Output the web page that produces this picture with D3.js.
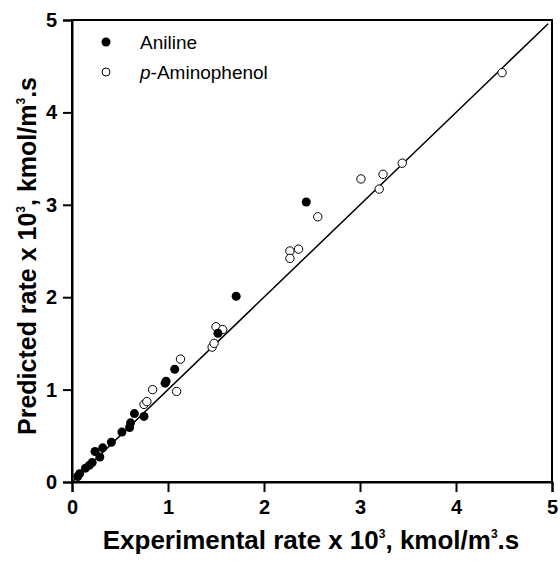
<!DOCTYPE html>
<html>
<head>
<meta charset="utf-8">
<script src="https://cdn.jsdelivr.net/npm/d3@7"></script>
<style>
  body { margin: 0; background: #fff; }
  text { font-family: Arial, "Liberation Sans", sans-serif; }
</style>
</head>
<body>
<div id="chart"></div>
<script>

// Aniline (filled circles)
var anilineExp  = [0.06, 0.08, 0.14, 0.18, 0.21, 0.24, 0.29, 0.32, 0.41, 0.52, 0.60, 0.61, 0.65, 0.75, 0.97, 0.98, 1.07, 1.52, 1.71, 2.44];
var anilinePred = [0.06, 0.09, 0.15, 0.18, 0.21, 0.33, 0.27, 0.37, 0.43, 0.54, 0.59, 0.64, 0.74, 0.71, 1.07, 1.09, 1.22, 1.61, 2.01, 3.03];

// p-Aminophenol (open circles)
var aminoExp  = [0.75, 0.78, 0.84, 1.09, 1.13, 1.46, 1.48, 1.50, 1.57, 2.27, 2.27, 2.36, 2.56, 3.01, 3.20, 3.24, 3.44, 4.48];
var aminoPred = [0.84, 0.87, 1.00, 0.98, 1.33, 1.46, 1.50, 1.68, 1.65, 2.50, 2.42, 2.52, 2.87, 3.28, 3.17, 3.33, 3.45, 4.43];

// parity line
var lineX = [0, 4.96];

var xTicks = [0, 1, 2, 3, 4, 5];
var yTicks = [0, 1, 2, 3, 4, 5];

var width = 560, height = 562;
var mLeft = 72, mRight = 552, mTop = 20, mBottom = 482;

var svg = d3.select("#chart").append("svg")
	.attr("width", width)
	.attr("height", height);

var x = d3.scaleLinear().domain([0, 5]).range([mLeft, mRight]);
var y = d3.scaleLinear().domain([0, 5]).range([mBottom, mTop]);

// frame
svg.append("rect")
	.attr("x", mLeft).attr("y", mTop)
	.attr("width", mRight - mLeft).attr("height", mBottom - mTop)
	.attr("fill", "none").attr("stroke", "#000").attr("stroke-width", 2);

var xAxis = svg.append("g")
	.attr("transform", "translate(0," + mBottom + ")")
	.call(d3.axisBottom(x).tickValues(xTicks).tickFormat(d3.format("d")).tickSize(10).tickPadding(8));

var yAxis = svg.append("g")
	.attr("transform", "translate(" + mLeft + ",0)")
	.call(d3.axisLeft(y).tickValues(yTicks).tickFormat(d3.format("d")).tickSize(9).tickPadding(6));

[xAxis, yAxis].forEach(function(a) {
	a.select(".domain").attr("stroke-width", 2);
	a.selectAll(".tick line").attr("stroke-width", 2);
	a.selectAll(".tick text")
		.attr("font-size", 20)
		.attr("font-weight", "bold")
		.attr("font-family", "Arial, 'Liberation Sans', sans-serif")
		.attr("fill", "#000");
});

// y = x line
svg.append("line")
	.attr("x1", x(lineX[0])).attr("y1", y(lineX[0]))
	.attr("x2", x(lineX[1])).attr("y2", y(lineX[1]))
	.attr("stroke", "#000").attr("stroke-width", 1.5);

var aniline = anilineExp.map(function(d, i) { return {x: d, y: anilinePred[i]}; });
var amino = aminoExp.map(function(d, i) { return {x: d, y: aminoPred[i]}; });

svg.selectAll("circle.amino")
	.data(amino)
	.enter().append("circle")
	.attr("class", "amino")
	.attr("cx", function(d) { return x(d.x); })
	.attr("cy", function(d) { return y(d.y); })
	.attr("r", 4.2)
	.attr("fill", "#fff").attr("stroke", "#000").attr("stroke-width", 1);

svg.selectAll("circle.aniline")
	.data(aniline)
	.enter().append("circle")
	.attr("class", "aniline")
	.attr("cx", function(d) { return x(d.x); })
	.attr("cy", function(d) { return y(d.y); })
	.attr("r", 4.5)
	.attr("fill", "#000");

// legend
var legend = svg.append("g");
legend.append("circle").attr("cx", 106).attr("cy", 42).attr("r", 4.5).attr("fill", "#000");
legend.append("text").attr("x", 140).attr("y", 49).attr("font-size", 19).text("Aniline");
legend.append("circle").attr("cx", 106).attr("cy", 72).attr("r", 4)
	.attr("fill", "#fff").attr("stroke", "#000");
var t2 = legend.append("text").attr("x", 140).attr("y", 79).attr("font-size", 19);
t2.append("tspan").attr("font-style", "italic").text("p");
t2.append("tspan").text("-Aminophenol");

// axis titles, superscript 3s raised with dy
function title(sel, parts) {
	var raised = false;
	parts.forEach(function(p) {
		var ts = sel.append("tspan").text(p.t);
		if (p.sup) {
			ts.attr("dy", -11).attr("font-size", 12);
			raised = true;
		} else if (raised) {
			ts.attr("dy", 11);
			raised = false;
		}
	});
}

var xt = svg.append("text")
	.attr("x", 311).attr("y", 549)
	.attr("text-anchor", "middle")
	.attr("font-size", 26).attr("font-weight", "bold");
title(xt, [{t: "Experimental rate x 10"}, {t: "3", sup: true}, {t: ", kmol/m"}, {t: "3", sup: true}, {t: ".s"}]);

var yt = svg.append("text")
	.attr("transform", "translate(36,256) rotate(-90)")
	.attr("text-anchor", "middle")
	.attr("font-size", 25).attr("font-weight", "bold");
title(yt, [{t: "Predicted rate x 10"}, {t: "3", sup: true}, {t: ", kmol/m"}, {t: "3", sup: true}, {t: ".s"}]);

</script>
</body>
</html>
